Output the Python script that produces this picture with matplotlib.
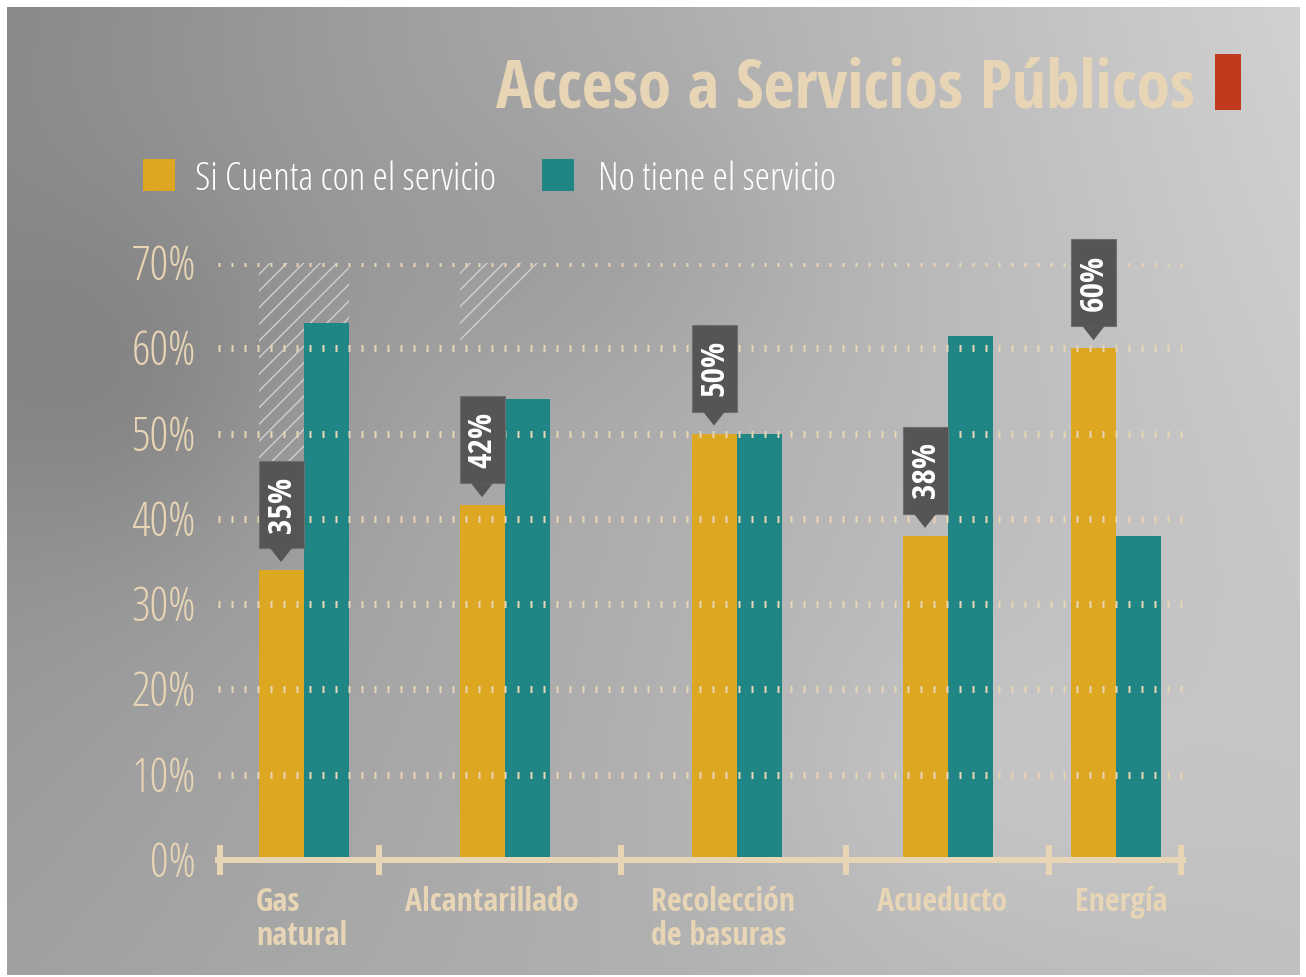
import numpy as np
import matplotlib
matplotlib.use("Agg")
import matplotlib.pyplot as plt
from matplotlib.patches import Rectangle, Polygon
from matplotlib.transforms import offset_copy

# ---------------- data ----------------
title = "Acceso a Servicios Públicos"
categories = ["Gas\nnatural", "Alcantarillado", "Recolección\nde basuras", "Acueducto", "Energía"]
series_names = ["Si Cuenta con el servicio", "No tiene el servicio"]
si_cuenta = [34, 41.6, 50, 38, 60]
no_tiene = [63, 54, 50, 61.4, 38]
si_labels = ["35%", "42%", "50%", "38%", "60%"]
yticks = [0, 10, 20, 30, 40, 50, 60, 70]
ytick_labels = ["0%", "10%", "20%", "30%", "40%", "50%", "60%", "70%"]

# ---------------- style / layout ----------------
W, H = 1306, 977
YELLOW = "#DDA722"
TEAL = "#1F8585"
BEIGE = "#E8D5B5"
BOXC = "#555555"
RED = "#C23A1B"
series_colors = [YELLOW, TEAL]

group_x = [303.5, 504.5, 736.5, 947.5, 1116]      # centre of each bar pair (px)
bar_w = 45
separators = [220, 379, 621, 846, 1049, 1181]
label_x = [256, 405, 651, 877, 1075]
AX_L, AX_R, Y0, Y70 = 218, 1183, 860, 263
PX_PER = (Y0 - Y70) / 70.0

light = dict(family="Open Sans", weight="light", stretch="condensed")
bold = dict(family="Open Sans Condensed", weight="bold")
plt.rcParams["hatch.linewidth"] = 1.0

fig = plt.figure(figsize=(W / 100, H / 100), dpi=100, facecolor="white")

# ---------------- background ----------------
bx0, by0, bx1, by1 = 7, 7, 1300, 975
bg = fig.add_axes([bx0 / W, 1 - by1 / H, (bx1 - bx0) / W, (by1 - by0) / H], zorder=-10)
xs = np.linspace(0, 1, 300)
ys = np.linspace(0, 1, 230)
X, Y = np.meshgrid(xs, ys)
TL, TR, BL, BR = 0.54, 0.82, 0.63, 0.75
v = TL * (1 - X) * (1 - Y) + TR * X * (1 - Y) + BL * (1 - X) * Y + BR * X * Y
v -= 0.07 * np.exp(-(((X - 0.08) / 0.16) ** 2 + ((Y - 0.38) / 0.2) ** 2))
v -= 0.04 * np.exp(-(((X - 0.45) / 0.2) ** 2 + ((Y - 0.25) / 0.15) ** 2))
v += 0.04 * np.exp(-(((X - 0.75) / 0.2) ** 2 + ((Y - 0.8) / 0.2) ** 2))
bg.imshow(np.dstack([v, v, v]), aspect="auto", interpolation="bilinear")
bg.axis("off")

# ---------------- main axes ----------------
ax = fig.add_axes([AX_L / W, 1 - Y0 / H, (AX_R - AX_L) / W, (Y0 - Y70) / H])
ax.set_facecolor("none")
ax.set_xlim(AX_L, AX_R)
ax.set_ylim(0, 70)
for s in ["top", "right", "left"]:
    ax.spines[s].set_visible(False)
ax.spines["bottom"].set_color(BEIGE)
ax.spines["bottom"].set_linewidth(6 * 0.72)
ax.spines["bottom"].set_zorder(5)
ax.set_xticks(separators)
ax.set_xticklabels([])
ax.tick_params(axis="x", direction="inout", length=30 * 0.72, width=6 * 0.72, color=BEIGE)
ax.set_yticks(yticks[1:])
ax.set_yticklabels([])
ax.tick_params(axis="y", length=0)
grid_lw_px = 7.0
ax.yaxis.grid(True, color=BEIGE, linewidth=grid_lw_px * 0.72,
              linestyle=(0, (2.0 / grid_lw_px, 11.0 / grid_lw_px)))
for gl in ax.get_ygridlines():
    gl.set_zorder(3)
ax.set_axisbelow(False)

def px2v(py):
    return (Y0 - py) / PX_PER

# decorative hatching
rect_h = Rectangle((259, px2v(462)), 349 - 259, 70 - px2v(462), fill=False,
                   edgecolor="#d0d0d0", linewidth=0, hatch="//", zorder=1)
ax.add_patch(rect_h)
tri = Polygon([(460, 70), (540, 70), (460, px2v(343))], closed=True, fill=False,
              edgecolor="#d0d0d0", linewidth=0, hatch="//", zorder=1)
ax.add_patch(tri)

xc = np.array(group_x)
ax.bar(xc - bar_w / 2, si_cuenta, width=bar_w, color=YELLOW, zorder=2, linewidth=0)
ax.bar(xc + bar_w / 2, no_tiene, width=bar_w, color=TEAL, zorder=2, linewidth=0)

# value callouts
gap, tri_h, box_h, tri_hw = 8, 14, 87, 11
for x, val, lab in zip(xc, si_cuenta, si_labels):
    top_px = Y0 - val * PX_PER
    tip = top_px - gap
    base = tip - tri_h
    btop = base - box_h
    left = x - bar_w
    r = Rectangle((left, px2v(base)), bar_w, px2v(btop) - px2v(base), facecolor=BOXC,
                  edgecolor="#6e6e6e", linewidth=0.8, zorder=6, clip_on=False)
    ax.add_patch(r)
    t = Polygon([(x - bar_w / 2 - tri_hw, px2v(base)), (x - bar_w / 2 + tri_hw, px2v(base)),
                 (x - bar_w / 2, px2v(tip))], closed=True, facecolor=BOXC, linewidth=0,
                zorder=6, clip_on=False)
    ax.add_patch(t)
    ax.text(x - bar_w / 2 + 1, px2v((base + btop) / 2), lab, rotation=90, ha="center",
            va="center", color="white", fontsize=24, zorder=7, **bold)

# y tick labels
ytrans = offset_copy(ax.get_yaxis_transform(), fig=fig, x=-22, y=-17, units="dots")
for yv, yl in zip(yticks, ytick_labels):
    ax.text(0, yv, yl, transform=ytrans, ha="right", va="baseline", color=BEIGE,
            fontsize=33.5, **light)

# category labels
for lx, cat in zip(label_x, categories):
    fig.text(lx / W, 1 - 886 / H, cat, ha="left", va="top", color=BEIGE, fontsize=23,
             linespacing=1.05, **bold)

# title + red marker
fig.text(1195 / W, 1 - 108 / H, title, ha="right", va="baseline", color=BEIGE,
         fontsize=48.5, **bold)
fig.patches.append(Rectangle((1215 / W, 1 - 110 / H), 26 / W, 56 / H, transform=fig.transFigure,
                             facecolor=RED, edgecolor="none"))

# legend
leg_box_x = [143, 542]
leg_text_x = [195, 598]
for bxp, txp, name, col in zip(leg_box_x, leg_text_x, series_names, series_colors):
    fig.patches.append(Rectangle((bxp / W, 1 - 191 / H), 32 / W, 32 / H, transform=fig.transFigure,
                                 facecolor=col, edgecolor="none"))
    fig.text(txp / W, 1 - 190 / H, name, ha="left", va="baseline", color="white",
             fontsize=28, **light)

fig.savefig("out.png", dpi=100, facecolor="white")
